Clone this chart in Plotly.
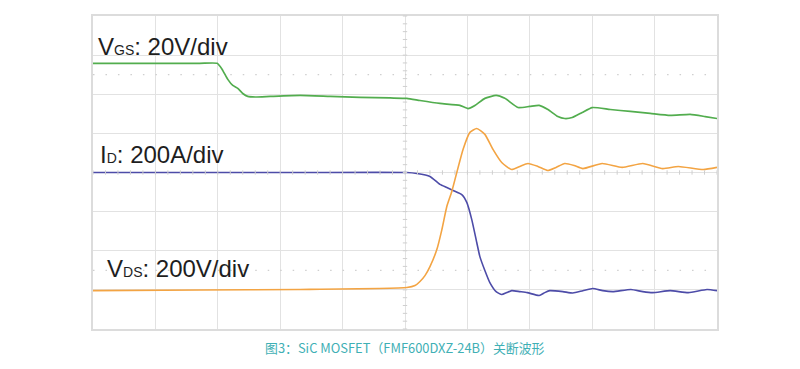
import plotly.graph_objects as go

# ---------------- data (time in screen divisions, values in physical units) -------------
# Gate-source voltage V_GS (V), 20 V/div
t_vgs = [0, 0.91, 1.71, 1.99, 2.07, 2.16, 2.24, 2.32, 2.40, 2.48, 2.60, 2.84, 3.32, 3.80,
         4.28, 4.76, 5.03, 5.24, 5.56, 5.88, 6.01, 6.12, 6.28, 6.46, 6.60, 6.81, 7.00, 7.15,
         7.29, 7.45, 7.56, 7.68, 7.84, 8.00, 8.29, 8.61, 8.93, 9.25, 9.57, 9.81, 10.0]
vgs = [15.8, 15.8, 15.8, 15.8, 12.7, 7.6, 4.5, 3.0, 0.4, -1.1, -1.4, -1.1, -0.6, -1.1,
       -1.6, -1.9, -2.1, -3.2, -4.7, -5.7, -7.3, -5.7, -2.1, -0.6, -2.1, -6.8, -6.2, -5.7,
       -7.8, -11.4, -12.4, -11.9, -9.3, -6.8, -7.8, -8.8, -9.8, -10.8, -10.3, -11.4, -12.4]

# Drain current I_D (A), 200 A/div
t_id = [0, 1.71, 3.32, 5.03, 5.19, 5.40, 5.56, 5.67, 5.77, 5.91, 5.99, 6.07, 6.15, 6.20,
        6.28, 6.36, 6.46, 6.55, 6.63, 6.71, 6.84, 6.96, 7.15, 7.24, 7.32, 7.53, 7.69, 7.85,
        8.01, 8.17, 8.33, 8.62, 8.81, 8.97, 9.25, 9.54, 9.84, 10.0]
i_d = [600, 600, 600, 600, 595, 580, 539, 523, 508, 487, 447, 359, 242, 170,
       99, 37, -9, -24, -14, -4, -9, -14, -29, -14, -4, -9, -16, -4,
       7, -4, -9, 2, -9, -14, -4, -14, 2, -4]

# Drain-source voltage V_DS (V), 200 V/div
t_vds = [0, 1.71, 3.32, 5.03, 5.16, 5.24, 5.32, 5.40, 5.51, 5.59, 5.67, 5.75, 5.83, 5.93,
         6.04, 6.15, 6.28, 6.41, 6.55, 6.71, 6.84, 6.97, 7.13, 7.29, 7.42, 7.56, 7.71, 7.85,
         8.16, 8.48, 8.81, 9.13, 9.38, 9.78, 10.0]
vds = [-4, -1, 2, 12, 22, 43, 73, 119, 206, 307, 426, 503, 600, 718,
       805, 825, 795, 718, 651, 615, 631, 646, 631, 610, 626, 646, 636, 620,
       646, 626, 646, 620, 631, 615, 626]

vgs_trigger_level = 4.0  # trigger marker on V_GS (V)

labels = {
    "vgs": "V<span style='font-size:14px'>GS</span>: 20V/div",
    "id": "I<span style='font-size:14px'>D</span>: 200A/div",
    "vds": "V<span style='font-size:14px'>DS</span>: 200V/div",
}
caption = "图3：SiC MOSFET（FMF600DXZ-24B）关断波形"

GREEN = "#52ad4e"
BLUE = "#4d4ca8"
ORANGE = "#f3a443"
GRID = "#e2e2e2"

fig = go.Figure()
fig.add_trace(go.Scatter(x=t_vgs, y=vgs, yaxis="y3", mode="lines",
                         line=dict(color=GREEN, width=1.7, shape="spline", smoothing=0.5)))
fig.add_trace(go.Scatter(x=t_vds, y=vds, yaxis="y2", mode="lines",
                         line=dict(color=ORANGE, width=1.6, shape="spline", smoothing=0.5)))
fig.add_trace(go.Scatter(x=t_id, y=i_d, yaxis="y", mode="lines",
                         line=dict(color=BLUE, width=1.6, shape="spline", smoothing=0.5)))

# channel ground markers and trigger marker
fig.add_trace(go.Scatter(x=[-0.06], y=[0], yaxis="y3", mode="markers", cliponaxis=False,
                         marker=dict(symbol="square", size=6, color=GREEN, opacity=0.7)))
fig.add_trace(go.Scatter(x=[-0.06], y=[0], yaxis="y", mode="markers", cliponaxis=False,
                         marker=dict(symbol="square", size=6, color=BLUE, opacity=0.6)))
fig.add_trace(go.Scatter(x=[10.08], y=[vgs_trigger_level], yaxis="y3", mode="markers",
                         cliponaxis=False,
                         marker=dict(symbol="triangle-left", size=7, color=GREEN)))
fig.add_trace(go.Scatter(x=[-0.02], y=[-0.1], yaxis="y3", mode="markers", cliponaxis=False,
                         marker=dict(symbol="circle", size=5, color=GREEN)))

shapes = []
# minor ticks on centre lines
for k in range(51):
    xv = k * 0.2
    shapes.append(dict(type="line", xref="x", yref="paper", x0=xv, x1=xv,
                       y0=0.5 - 0.007, y1=0.5 + 0.007, line=dict(color="#cfcfcf", width=1)))
for k in range(41):
    yv = k * 0.025
    shapes.append(dict(type="line", xref="x", yref="paper", x0=5 - 0.035, x1=5 + 0.035,
                       y0=yv, y1=yv, line=dict(color="#cfcfcf", width=1)))
# dotted rows at +/- 2.5 div
for yp in (0.1875, 0.8125):
    shapes.append(dict(type="line", xref="x", yref="paper", x0=0, x1=10, y0=yp, y1=yp,
                       line=dict(color="#cfcfcf", width=1.2, dash="1.5px,10.98px")))

annotations = [
    dict(text=labels["vgs"], xref="paper", yref="paper", x=0.005, y=0.901,
         xanchor="left", yanchor="middle", showarrow=False,
         font=dict(family="Liberation Sans, Arial", size=24, color="#1e1e1e")),
    dict(text=labels["id"], xref="paper", yref="paper", x=0.008, y=0.559,
         xanchor="left", yanchor="middle", showarrow=False,
         font=dict(family="Liberation Sans, Arial", size=24, color="#1e1e1e")),
    dict(text=labels["vds"], xref="paper", yref="paper", x=0.019, y=0.192,
         xanchor="left", yanchor="middle", showarrow=False,
         font=dict(family="Liberation Sans, Arial", size=24, color="#1e1e1e")),
    dict(text=caption, xref="paper", yref="paper", x=0.5008, y=-0.0607,
         xanchor="center", yanchor="middle", showarrow=False,
         font=dict(family="Noto Sans CJK SC, Noto Sans", size=12.9, color="#3fb0b5")),
]

axis_common = dict(showticklabels=False, ticks="", zeroline=False)
fig.update_layout(
    width=800, height=369,
    margin=dict(l=93, r=83, t=16, b=40),
    paper_bgcolor="white", plot_bgcolor="white",
    showlegend=False,
    xaxis=dict(range=[0, 10], dtick=1, showgrid=True, gridcolor=GRID, gridwidth=1.2,
               showline=True, linecolor="#dcdcdc", linewidth=2, mirror=True, **axis_common),
    yaxis=dict(range=[-200, 1400], dtick=200, showgrid=True, gridcolor=GRID, gridwidth=1.2,
               showline=True, linecolor="#dcdcdc", linewidth=2, mirror=True, **axis_common),
    yaxis2=dict(range=[-200, 1400], overlaying="y", visible=False),
    yaxis3=dict(range=[-120, 40], overlaying="y", visible=False),
    shapes=shapes,
    annotations=annotations,
)

fig.write_html("out.html", config={"displayModeBar": False},
               post_script="document.body.style.margin='0';document.body.style.overflow='hidden';")
